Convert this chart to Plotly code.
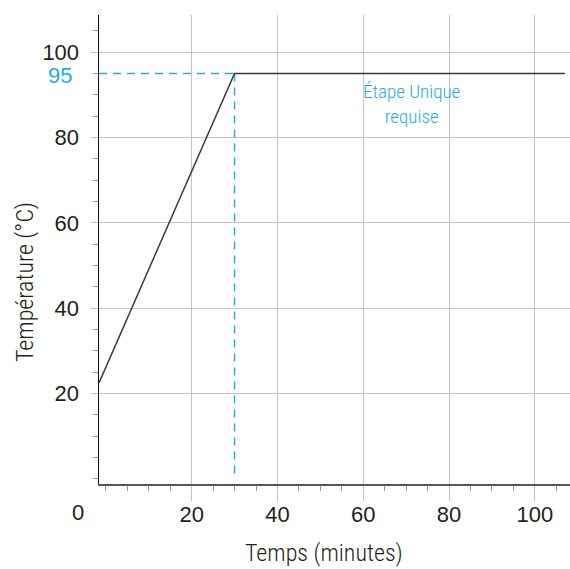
import plotly.graph_objects as go

# Data
time_min = [-1.6, 30, 107]
temp_c = [22.5, 95, 95]
peak_time = 30
peak_temp = 95
x_ticks = [20, 40, 60, 80, 100]
y_ticks = [20, 40, 60, 80, 100]
x_label = "Temps (minutes)"
y_label = "Température (°C)"
step_text = "Étape Unique<br>requise"

BLUE = "#29abe2"
DARK = "#231f20"
GRID = "#c4c4c4"
TICKFONT = "Liberation Sans, Arial, sans-serif"
NARROW = "Liberation Sans Narrow, Roboto Condensed, Arial Narrow, Roboto, sans-serif"

x0, x1 = -1.6, 108.2
y0, y1 = -1.2, 108.7

L, T, W, H = 99, 15, 471, 469  # plot area in pixels

def px(xp):
    return (xp - L) / W

def py(yp):
    return (T + H - yp) / H

fig = go.Figure()

# dashed guides
fig.add_trace(go.Scatter(x=[x0, peak_time], y=[peak_temp, peak_temp], mode="lines",
                         line=dict(color=BLUE, width=1.5, dash="8px,6px"), hoverinfo="skip"))
fig.add_trace(go.Scatter(x=[peak_time, peak_time], y=[peak_temp, 1], mode="lines",
                         line=dict(color=BLUE, width=1.5, dash="8px,6px"), hoverinfo="skip"))
# main profile
fig.add_trace(go.Scatter(x=time_min, y=temp_c, mode="lines",
                         line=dict(color="#3a3a3a", width=1.5), hoverinfo="skip"))

fig.update_layout(
    width=570, height=569,
    margin=dict(l=L, r=570 - L - W, t=T, b=569 - T - H, autoexpand=False),
    paper_bgcolor="white", plot_bgcolor="white",
    showlegend=False,
    xaxis=dict(
        range=[x0, x1], tickmode="array", tickvals=x_ticks,
        showgrid=True, gridcolor=GRID, gridwidth=1,
        ticks="outside", ticklen=15, tickcolor=GRID, tickwidth=1,
        showline=True, linecolor="#555555", linewidth=2,
        tickfont=dict(family=TICKFONT, size=22, color=DARK),
        ticklabelstandoff=-5,
        minor=dict(dtick=5, tick0=0, ticks="outside", ticklen=5, tickcolor="#999999", showgrid=False),
        zeroline=False, fixedrange=True, automargin=False,
    ),
    yaxis=dict(
        range=[y0, y1], tickmode="array", tickvals=y_ticks,
        showgrid=True, gridcolor=GRID, gridwidth=1,
        ticks="outside", ticklen=7, tickcolor=GRID, tickwidth=1,
        showline=True, linecolor="#111111", linewidth=1.5,
        tickfont=dict(family=TICKFONT, size=22, color=DARK),
        ticklabelstandoff=7,
        minor=dict(dtick=5, tick0=0, ticks="outside", ticklen=5, tickcolor="#999999", showgrid=False),
        zeroline=False, fixedrange=True, automargin=False,
    ),
    annotations=[
        dict(x=x0, y=peak_temp, xref="x", yref="y", text=str(peak_temp), showarrow=False,
             xanchor="right", yanchor="middle", xshift=-25, yshift=-2,
             font=dict(family=TICKFONT, size=22, color=BLUE)),
        dict(x=x0, y=0, xref="x", yref="paper", text="0", showarrow=False,
             xanchor="center", yanchor="middle", xshift=-21, yshift=-28,
             font=dict(family=TICKFONT, size=22, color=DARK)),
        dict(x=71.3, y=88, xref="x", yref="y", text=step_text, showarrow=False,
             xanchor="center", yanchor="middle", yshift=-1,
             font=dict(family=NARROW, size=19, color=BLUE, weight=300)),
        dict(x=px(324), y=py(553), xref="paper", yref="paper", text=x_label, showarrow=False,
             xanchor="center", yanchor="middle",
             font=dict(family=NARROW, size=24, color=DARK, weight=300)),
        dict(x=px(25), y=py(282), xref="paper", yref="paper", text=y_label, showarrow=False,
             xanchor="center", yanchor="middle", textangle=-90,
             font=dict(family=NARROW, size=24, color=DARK, weight=300)),
    ],
)

fig.write_html(
    "out.html",
    config={"displayModeBar": False, "staticPlot": True},
    post_script="document.body.style.margin='0';document.body.style.overflow='hidden';",
)
